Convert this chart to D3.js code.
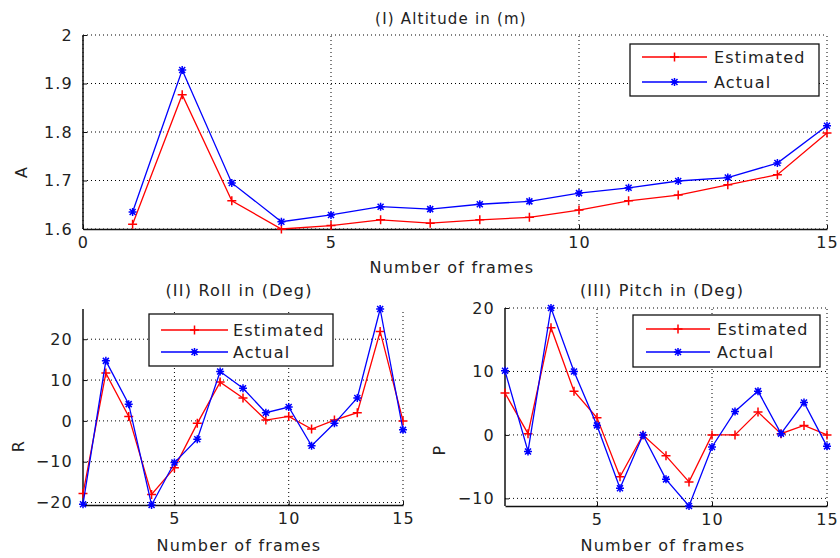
<!DOCTYPE html>
<html>
<head>
<meta charset="utf-8">
<script src="https://cdn.jsdelivr.net/npm/d3@7"></script>
<style>
  body { margin: 0; background: #fff; }
  text { font-family: "DejaVu Sans", sans-serif; fill: #222; letter-spacing: 1.2px; }
</style>
</head>
<body>
<script>
// frames
const frames = [1, 2, 3, 4, 5, 6, 7, 8, 9, 10, 11, 12, 13, 14, 15];

// (I) altitude
const altEstimated = [1.610, 1.877, 1.658, 1.600, 1.607, 1.619, 1.612, 1.619, 1.624, 1.639, 1.658, 1.670, 1.691, 1.712, 1.798];
const altActual    = [1.635, 1.928, 1.695, 1.615, 1.629, 1.646, 1.641, 1.651, 1.657, 1.674, 1.685, 1.699, 1.706, 1.736, 1.813];

// (II) roll
const rollEstimated = [-17.8, 11.7, 1.1, -18.0, -11.5, -0.6, 9.5, 5.6, 0.2, 1.1, -2.0, 0.2, 2.0, 21.9, 0.0];
const rollActual    = [-20.4, 14.7, 4.1, -20.6, -10.2, -4.5, 12.1, 8.0, 2.0, 3.4, -6.1, -0.6, 5.6, 27.4, -2.2];

// (III) pitch
const pitchEstimated = [6.6, 0.2, 16.9, 6.9, 2.7, -6.6, 0.0, -3.3, -7.4, 0.0, 0.0, 3.6, 0.2, 1.5, 0.0];
const pitchActual    = [10.1, -2.6, 20.0, 10.0, 1.5, -8.4, 0.0, -7.0, -11.2, -1.9, 3.7, 6.9, 0.2, 5.1, -1.8];

const seriesNames = ["Estimated", "Actual"];
const seriesColors = ["#ff0000", "#0000ff"];

const width = 840;
const height = 558;

const svg = d3.select("body")
    .append("svg")
    .attr("width", width)
    .attr("height", height);

// marker shapes
const plusPath = "M-4.5,0H4.5M0,-4.5V4.5";
const starPath = "M-4,0H4M0,-4V4M-3,-3L3,3M-3,3L3,-3";
const markerPaths = [plusPath, starPath];

function drawPanel(cfg) {
    const g = svg.append("g");

    const xScale = d3.scaleLinear().domain(cfg.xDomain).range([cfg.left, cfg.right]);
    const yDomain = cfg.yDomain || d3.extent(cfg.series[0].concat(cfg.series[1]));
    const yScale = d3.scaleLinear().domain(yDomain).range([cfg.bottom, cfg.top]);

    // グリッド
    g.selectAll(".gx")
        .data(cfg.xTicks)
        .join("line")
        .attr("x1", (d) => xScale(d)).attr("x2", (d) => xScale(d))
        .attr("y1", cfg.bottom).attr("y2", cfg.top)
        .attr("stroke", "#000").attr("stroke-width", 1)
        .attr("stroke-dasharray", "1,3");
    g.selectAll(".gy")
        .data(cfg.yTicks)
        .join("line")
        .attr("x1", cfg.left).attr("x2", cfg.right)
        .attr("y1", (d) => yScale(d)).attr("y2", (d) => yScale(d))
        .attr("stroke", "#000").attr("stroke-width", 1)
        .attr("stroke-dasharray", "1,3");

    // x axis (ticks inside)
    const xAxis = g.append("g")
        .attr("transform", "translate(0," + cfg.bottom + ")")
        .call(d3.axisBottom(xScale).tickValues(cfg.xTicks).tickSizeInner(-4).tickSizeOuter(0).tickPadding(8).tickFormat(d3.format("d")));
    // y axis
    const yAxis = g.append("g")
        .attr("transform", "translate(" + cfg.left + ",0)")
        .call(d3.axisLeft(yScale).tickValues(cfg.yTicks).tickSizeInner(-4).tickSizeOuter(0).tickPadding(10).tickFormat(cfg.yFormat));

    [xAxis, yAxis].forEach((a) => {
        a.select(".domain").attr("stroke", "#111").attr("stroke-width", 1.5);
        a.selectAll(".tick line").attr("stroke", "#111");
        a.selectAll(".tick text")
            .style("font-family", "DejaVu Sans, sans-serif")
            .style("font-size", "16px")
            .attr("fill", "#222");
    });
    // y axis starts at plot top
    yAxis.select(".domain").attr("d", "M0," + cfg.top + "V" + cfg.bottom);

    // 線とマーカー
    const line = d3.line()
        .x((d, i) => xScale(frames[i]))
        .y((d) => yScale(d));

    cfg.series.forEach((vals, k) => {
        g.append("path")
            .datum(vals)
            .attr("d", line)
            .attr("fill", "none")
            .attr("stroke", seriesColors[k])
            .attr("stroke-width", 1.3);
        g.selectAll(".m" + k)
            .data(vals)
            .join("path")
            .attr("transform", (d, i) => "translate(" + xScale(frames[i]) + "," + yScale(d) + ")")
            .attr("d", markerPaths[k])
            .attr("stroke", seriesColors[k])
            .attr("stroke-width", 1.5)
            .attr("fill", "none");
    });

    // title
    g.append("text")
        .attr("x", cfg.titleX).attr("y", cfg.titleY)
        .attr("text-anchor", "middle")
        .style("font-size", cfg.titleSize + "px")
        .text(cfg.title);
    // x label
    g.append("text")
        .attr("x", cfg.xLabelX).attr("y", cfg.xLabelY)
        .attr("text-anchor", "middle")
        .style("font-size", "16px")
        .text("Number of frames");
    // y label
    g.append("text")
        .attr("transform", "translate(" + cfg.yLabelX + "," + cfg.yLabelY + ") rotate(-90)")
        .attr("text-anchor", "middle")
        .attr("dominant-baseline", "central")
        .style("font-size", "16px")
        .text(cfg.yLabel);

    // legend
    const lg = g.append("g");
    lg.append("rect")
        .attr("x", cfg.legend.x0).attr("y", cfg.legend.y0)
        .attr("width", cfg.legend.x1 - cfg.legend.x0)
        .attr("height", cfg.legend.y1 - cfg.legend.y0)
        .attr("fill", "#fff").attr("stroke", "#111").attr("stroke-width", 1.3);
    seriesNames.forEach((name, k) => {
        const y = cfg.legend.rows[k];
        lg.append("line")
            .attr("x1", cfg.legend.lineX0).attr("x2", cfg.legend.lineX1)
            .attr("y1", y).attr("y2", y)
            .attr("stroke", seriesColors[k]).attr("stroke-width", 1.3);
        lg.append("path")
            .attr("transform", "translate(" + (cfg.legend.lineX0 + cfg.legend.lineX1) / 2 + "," + y + ")")
            .attr("d", markerPaths[k])
            .attr("stroke", seriesColors[k]).attr("stroke-width", 1.5);
        lg.append("text")
            .attr("x", cfg.legend.textX).attr("y", y)
            .attr("dominant-baseline", "central")
            .style("font-size", "16px")
            .text(name);
    });
}

// (I) Altitude
drawPanel({
    series: [altEstimated, altActual],
    xDomain: [0, 15], yDomain: [1.6, 2],
    xTicks: [0, 5, 10, 15], yTicks: [1.6, 1.7, 1.8, 1.9, 2],
    yFormat: (d) => (d === 2 ? "2" : d3.format(".1f")(d)),
    left: 83, right: 827, top: 35, bottom: 229,
    title: "(I) Altitude in (m)", titleX: 451, titleY: 24, titleSize: 15,
    xLabelX: 452, xLabelY: 273,
    yLabel: "A", yLabelX: 21, yLabelY: 172,
    legend: { x0: 630, x1: 819, y0: 44, y1: 96, lineX0: 642, lineX1: 707, textX: 714, rows: [57, 82] }
});

// (II) Roll
drawPanel({
    series: [rollEstimated, rollActual],
    xDomain: [1, 15],
    xTicks: [5, 10, 15], yTicks: [-20, -10, 0, 10, 20],
    yFormat: d3.format("d"),
    left: 83, right: 403, top: 309, bottom: 505,
    title: "(II) Roll in (Deg)", titleX: 239, titleY: 296, titleSize: 16,
    xLabelX: 239, xLabelY: 551,
    yLabel: "R", yLabelX: 18, yLabelY: 446,
    legend: { x0: 149, x1: 333, y0: 314, y1: 366, lineX0: 161, lineX1: 228, textX: 233, rows: [330, 352] }
});

// (III) Pitch
drawPanel({
    series: [pitchEstimated, pitchActual],
    xDomain: [1, 15],
    xTicks: [5, 10, 15], yTicks: [-10, 0, 10, 20],
    yFormat: d3.format("d"),
    left: 505, right: 827, top: 308, bottom: 506,
    title: "(III) Pitch in (Deg)", titleX: 662, titleY: 296, titleSize: 16,
    xLabelX: 663, xLabelY: 551,
    yLabel: "P", yLabelX: 439, yLabelY: 450,
    legend: { x0: 633, x1: 820, y0: 315, y1: 367, lineX0: 646, lineX1: 710, textX: 717, rows: [329, 352] }
});
</script>
</body>
</html>
